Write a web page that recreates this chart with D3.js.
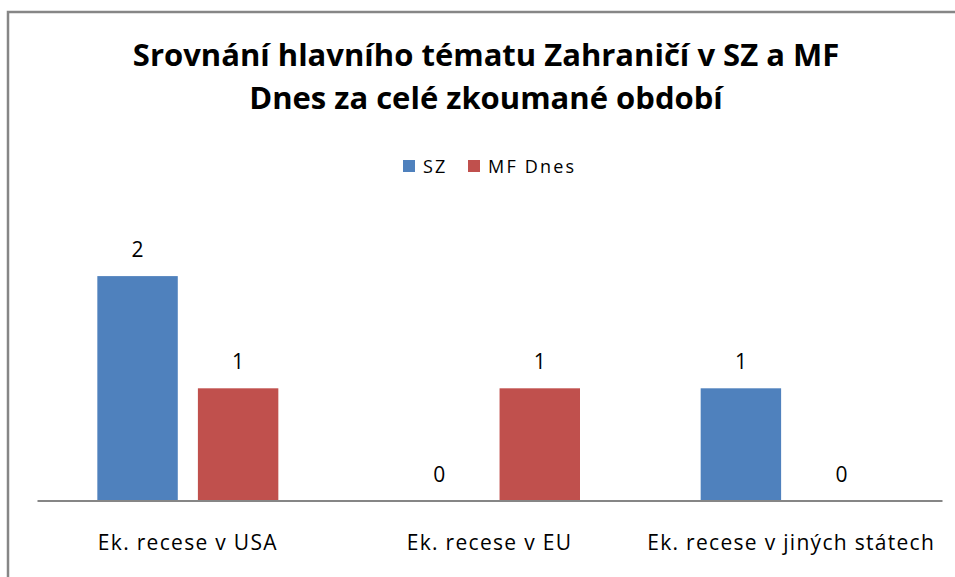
<!DOCTYPE html>
<html>
<head>
<meta charset="utf-8">
<script src="https://cdn.jsdelivr.net/npm/d3@7"></script>
<style>
  body { margin: 0; background: #fff; }
  text { font-family: "Open Sans", sans-serif; }
</style>
</head>
<body>
<div id="vis"></div>
<script>
const SVG = d3.select("#vis").append("svg");

const WIDTH = 955;
const HEIGHT = 577;
SVG.attr("width", WIDTH).attr("height", HEIGHT);

// datos
const KATEGORIE = ["Ek. recese v USA", "Ek. recese v EU", "Ek. recese v jiných státech"];
const SERIE = ["SZ", "MF Dnes"];
const HODNOTY_SZ = [2, 0, 1];
const HODNOTY_MF = [1, 1, 0];
const BARVY = ["#4f81bd", "#c0504d"];

const NADPIS = ["Srovnání hlavního tématu Zahraničí v SZ a MF", "Dnes za celé zkoumané období"];

const data = KATEGORIE.map((k, i) => ({
  kategorie: k,
  hodnoty: [
    { serie: "SZ", valor: HODNOTY_SZ[i] },
    { serie: "MF Dnes", valor: HODNOTY_MF[i] }
  ]
}));

// marco gris (solo arriba e izquierda)
SVG.append("path")
  .attr("d", "M8,577V12H955")
  .attr("fill", "none")
  .attr("stroke", "#868686")
  .attr("stroke-width", 2.5);

// titulo
SVG.selectAll(".nadpis")
  .data(NADPIS)
  .join("text")
  .attr("class", "nadpis")
  .attr("x", 486)
  .attr("y", (d, i) => 66 + i * 43)
  .attr("text-anchor", "middle")
  .attr("font-size", 31)
  .attr("font-weight", "bold")
  .attr("fill", "#000")
  .text(d => d);

// escalas
const escalaX = d3.scaleBand()
  .domain(KATEGORIE)
  .range([37, 942]);

const escalaSerie = d3.scaleBand()
  .domain(SERIE)
  .range([escalaX.bandwidth() * 0.2, escalaX.bandwidth() * 0.8])
  .paddingInner(0.2);

const escalaY = d3.scaleLinear()
  .domain([0, 2.5])
  .range([500.5, 220]);

const escalaColor = d3.scaleOrdinal()
  .domain(SERIE)
  .range(BARVY);

// barras
const G = SVG.selectAll(".grupo")
  .data(data)
  .join("g")
  .attr("class", "grupo")
  .attr("transform", d => `translate(${escalaX(d.kategorie)}, 0)`);

G.selectAll("rect")
  .data(d => d.hodnoty)
  .join("rect")
  .attr("x", d => escalaSerie(d.serie))
  .attr("y", d => escalaY(d.valor))
  .attr("width", escalaSerie.bandwidth())
  .attr("height", d => escalaY(0) - escalaY(d.valor))
  .attr("fill", d => escalaColor(d.serie));

G.selectAll(".etiqueta")
  .data(d => d.hodnoty)
  .join("text")
  .attr("class", "etiqueta")
  .attr("x", d => escalaSerie(d.serie) + escalaSerie.bandwidth() / 2)
  .attr("y", d => escalaY(d.valor) - 19)
  .attr("text-anchor", "middle")
  .attr("font-size", 21)
  .attr("fill", "#000")
  .text(d => d.valor);

// eje x
const eje = SVG.append("g")
  .attr("transform", `translate(0, ${escalaY(0)})`)
  .call(d3.axisBottom(escalaX).tickSize(0).tickPadding(35));

eje.select(".domain")
  .attr("stroke", "#868686")
  .attr("stroke-width", 2);

eje.selectAll("text")
  .attr("font-size", 21)
  .attr("font-family", "\"Open Sans\", sans-serif")
  .attr("letter-spacing", 1.3)
  .attr("fill", "#000");

// leyenda
const LEYENDA_X = [403, 468];
const L = SVG.selectAll(".leyenda")
  .data(SERIE)
  .join("g")
  .attr("class", "leyenda")
  .attr("transform", (d, i) => `translate(${LEYENDA_X[i]}, 160)`);

L.append("rect")
  .attr("width", 12)
  .attr("height", 12)
  .attr("fill", d => escalaColor(d));

L.append("text")
  .attr("x", 20)
  .attr("y", 13)
  .attr("font-size", 18)
  .attr("letter-spacing", 2.2)
  .attr("fill", "#000")
  .text(d => d);
</script>
</body>
</html>
